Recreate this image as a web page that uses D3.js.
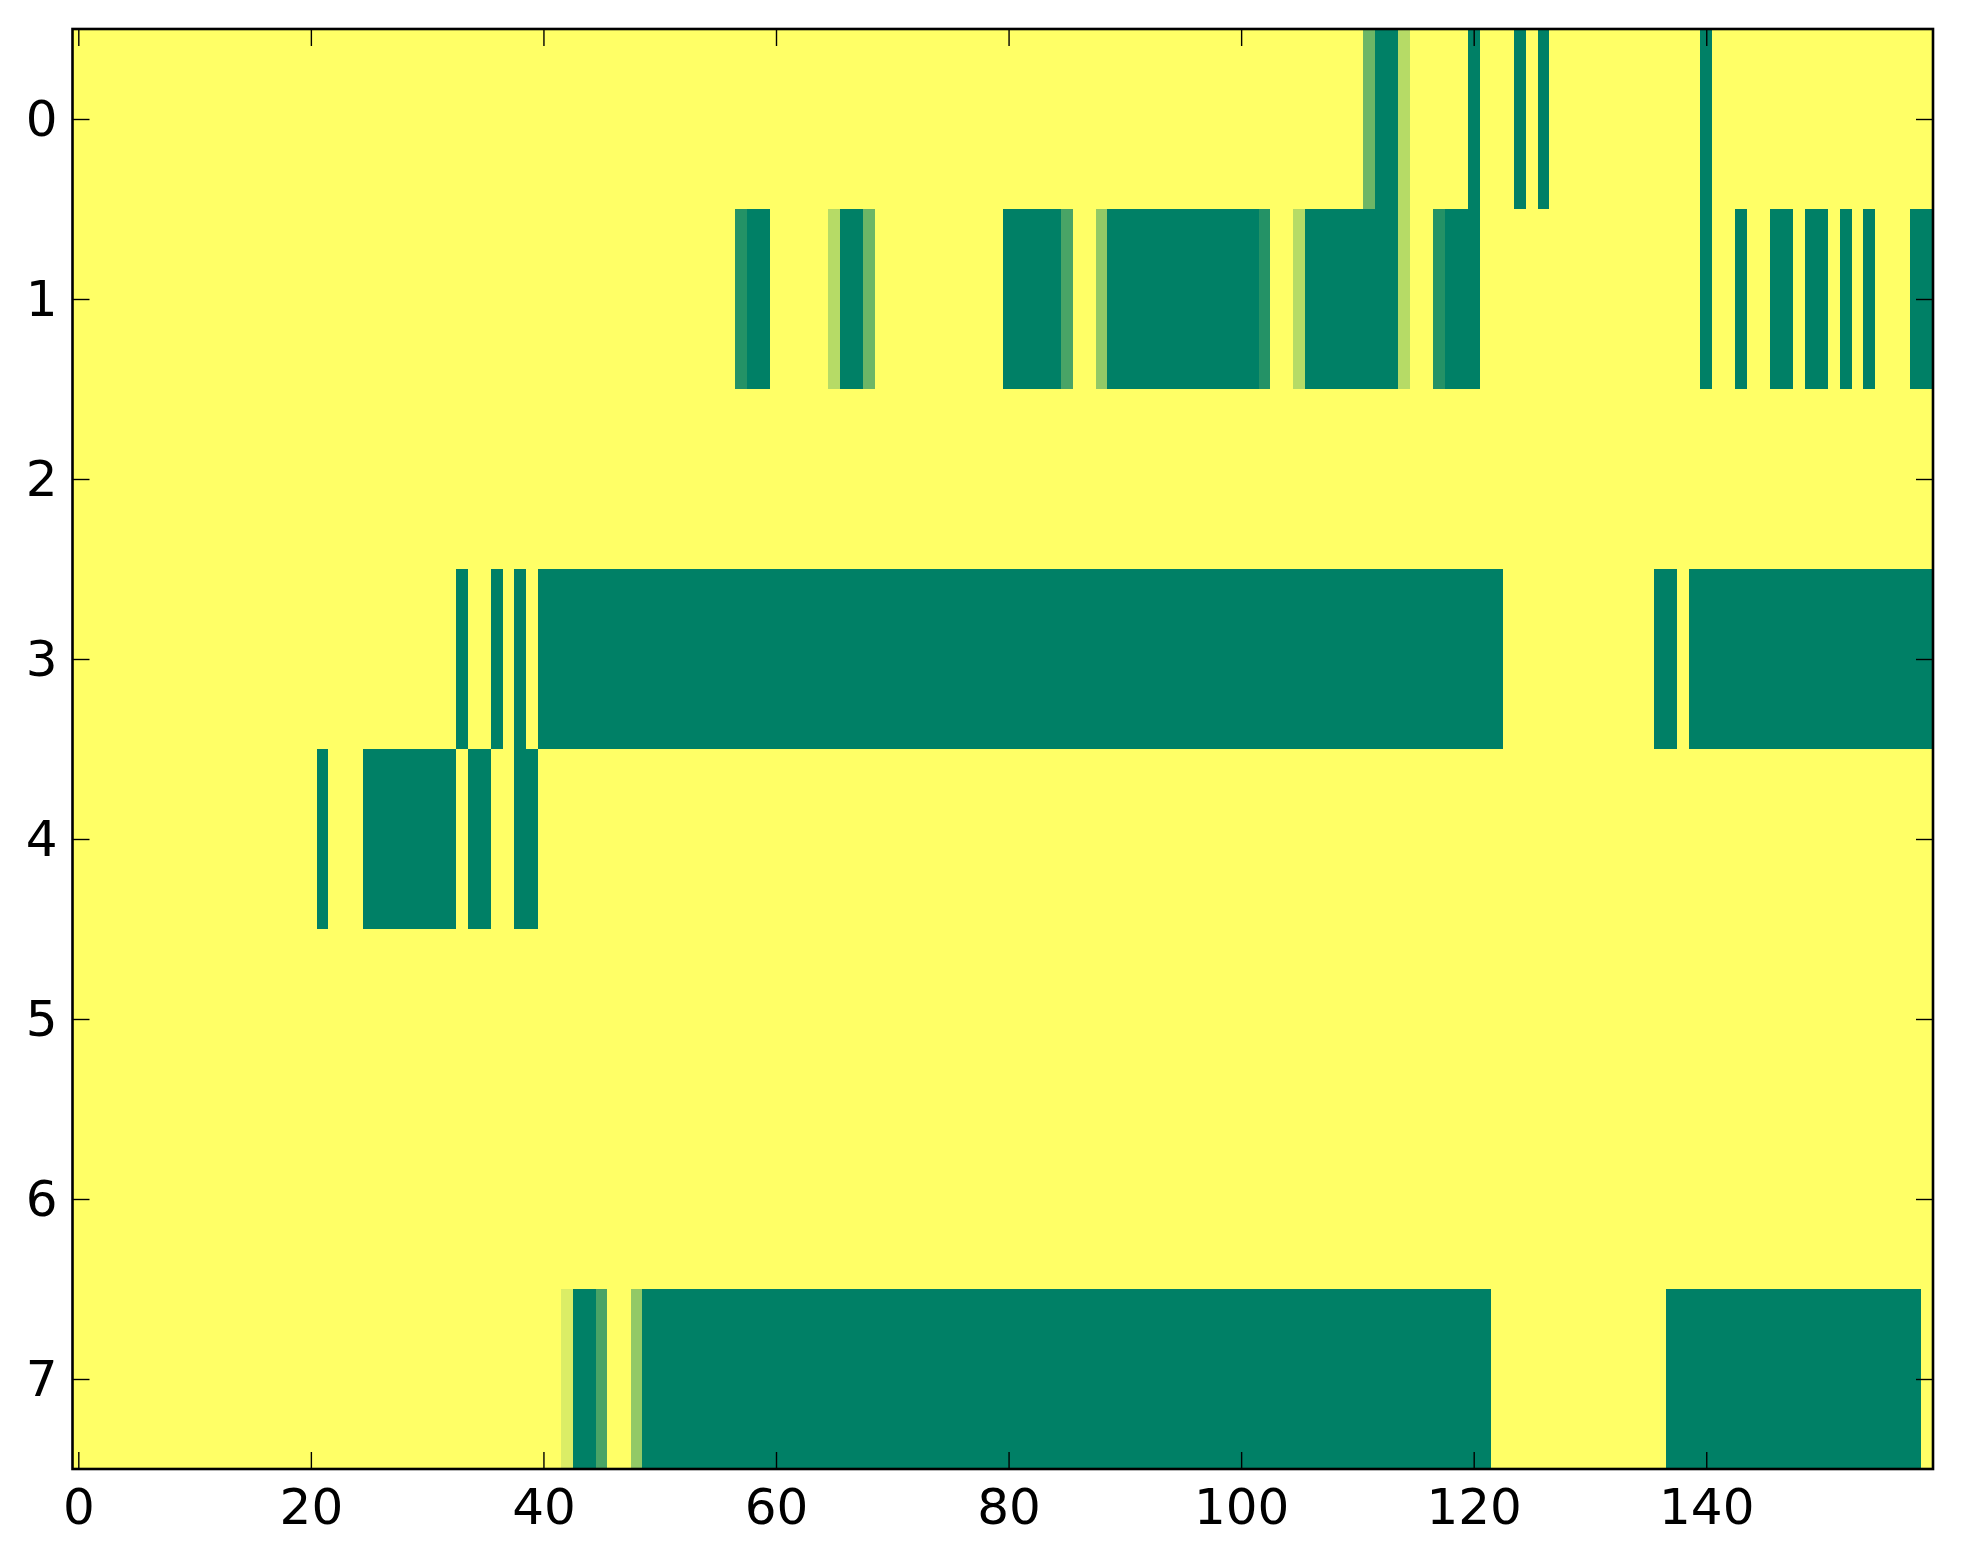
<!DOCTYPE html>
<html>
<head>
<meta charset="utf-8">
<script src="https://cdn.jsdelivr.net/npm/d3@7"></script>
<style>
  html, body { margin: 0; padding: 0; background: #fff; }
  svg { display: block; }
</style>
</head>
<body>
<svg id="chart" width="1963" height="1564"></svg>
<script>
// Each character is one cell, value in sevenths (0 = dark green, 7 = yellow)
const row0 = ["7777777777","7777777777","7777777777","7777777777","7777777777","7777777777","7777777777","7777777777","7777777777","7777777777","7777777777","7300577777","0777070777","7777777777","0777777777","7777777777"];
const row1 = ["7777777777","7777777777","7777777777","7777777777","7777777777","7777777100","7777750037","7777777777","0000027740","0000000000","0017750000","0000577100","0777777777","7777777777","0770770070","0707077700"];
const row2 = ["7777777777","7777777777","7777777777","7777777777","7777777777","7777777777","7777777777","7777777777","7777777777","7777777777","7777777777","7777777777","7777777777","7777777777","7777777777","7777777777"];
const row3 = ["7777777777","7777777777","7777777777","7770770707","0000000000","0000000000","0000000000","0000000000","0000000000","0000000000","0000000000","0000000000","0007777777","7777770070","0000000000","0000000000"];
const row4 = ["7777777777","7777777777","7077700000","0007007700","7777777777","7777777777","7777777777","7777777777","7777777777","7777777777","7777777777","7777777777","7777777777","7777777777","7777777777","7777777777"];
const row5 = ["7777777777","7777777777","7777777777","7777777777","7777777777","7777777777","7777777777","7777777777","7777777777","7777777777","7777777777","7777777777","7777777777","7777777777","7777777777","7777777777"];
const row6 = ["7777777777","7777777777","7777777777","7777777777","7777777777","7777777777","7777777777","7777777777","7777777777","7777777777","7777777777","7777777777","7777777777","7777777777","7777777777","7777777777"];
const row7 = ["7777777777","7777777777","7777777777","7777777777","7760027740","0000000000","0000000000","0000000000","0000000000","0000000000","0000000000","0000000000","0077777777","7777777000","0000000000","0000000007"];

const rowsData = [row0, row1, row2, row3, row4, row5, row6, row7];
const xTicks = [0, 20, 40, 60, 80, 100, 120, 140];
const yTicks = [0, 1, 2, 3, 4, 5, 6, 7];

(function () {
  const cells = [];
  rowsData.forEach((groups, r) => {
    const s = groups.join("");
    for (let c = 0; c < s.length; c++) cells.push({ r, c, v: +s[c] / 7 });
  });
  const nCols = rowsData[0].join("").length;
  const nRows = rowsData.length;

  const pL = 72.5, pR = 1933, pT = 29, pB = 1469;
  const svg = d3.select("#chart");

  const x = d3.scaleLinear().domain([-0.5, nCols - 0.5]).range([pL, pR]);
  const y = d3.scaleLinear().domain([-0.5, nRows - 0.5]).range([pT, pB]);
  const color = d3.scaleLinear().domain([0, 1]).range(["#008066", "#ffff66"]).interpolate(d3.interpolateRgb);

  svg.append("g")
    .selectAll("rect")
    .data(cells)
    .join("rect")
    .attr("x", d => x(d.c - 0.5))
    .attr("y", d => y(d.r - 0.5))
    .attr("width", d => x(d.c + 0.5) - x(d.c - 0.5) + 0.4)
    .attr("height", d => y(d.r + 0.5) - y(d.r - 0.5) + 0.4)
    .attr("fill", d => color(d.v))
    .attr("shape-rendering", "crispEdges");

  const font = "DejaVu Sans, sans-serif";
  const tickLen = 17;

  function styleAxis(g, showLabels) {
    g.select(".domain").remove();
    g.selectAll(".tick line").attr("stroke", "#000").attr("stroke-width", 1.4);
    g.selectAll(".tick text")
      .attr("fill", "#000")
      .style("font-family", font)
      .style("font-size", "50px");
    if (!showLabels) g.selectAll(".tick text").remove();
  }

  svg.append("g")
    .attr("transform", `translate(0,${pB})`)
    .call(d3.axisBottom(x).tickValues(xTicks).tickSizeInner(-tickLen).tickSizeOuter(0).tickPadding(19))
    .call(g => styleAxis(g, true));

  svg.append("g")
    .attr("transform", `translate(0,${pT})`)
    .call(d3.axisTop(x).tickValues(xTicks).tickSizeInner(-tickLen).tickSizeOuter(0))
    .call(g => styleAxis(g, false));

  svg.append("g")
    .attr("transform", `translate(${pL},0)`)
    .call(d3.axisLeft(y).tickValues(yTicks).tickSizeInner(-tickLen).tickSizeOuter(0).tickPadding(15))
    .call(g => styleAxis(g, true));

  svg.append("g")
    .attr("transform", `translate(${pR},0)`)
    .call(d3.axisRight(y).tickValues(yTicks).tickSizeInner(-tickLen).tickSizeOuter(0))
    .call(g => styleAxis(g, false));

  svg.append("rect")
    .attr("x", pL).attr("y", pT)
    .attr("width", pR - pL).attr("height", pB - pT)
    .attr("fill", "none").attr("stroke", "#000").attr("stroke-width", 2.6);
})();
</script>
</body>
</html>
